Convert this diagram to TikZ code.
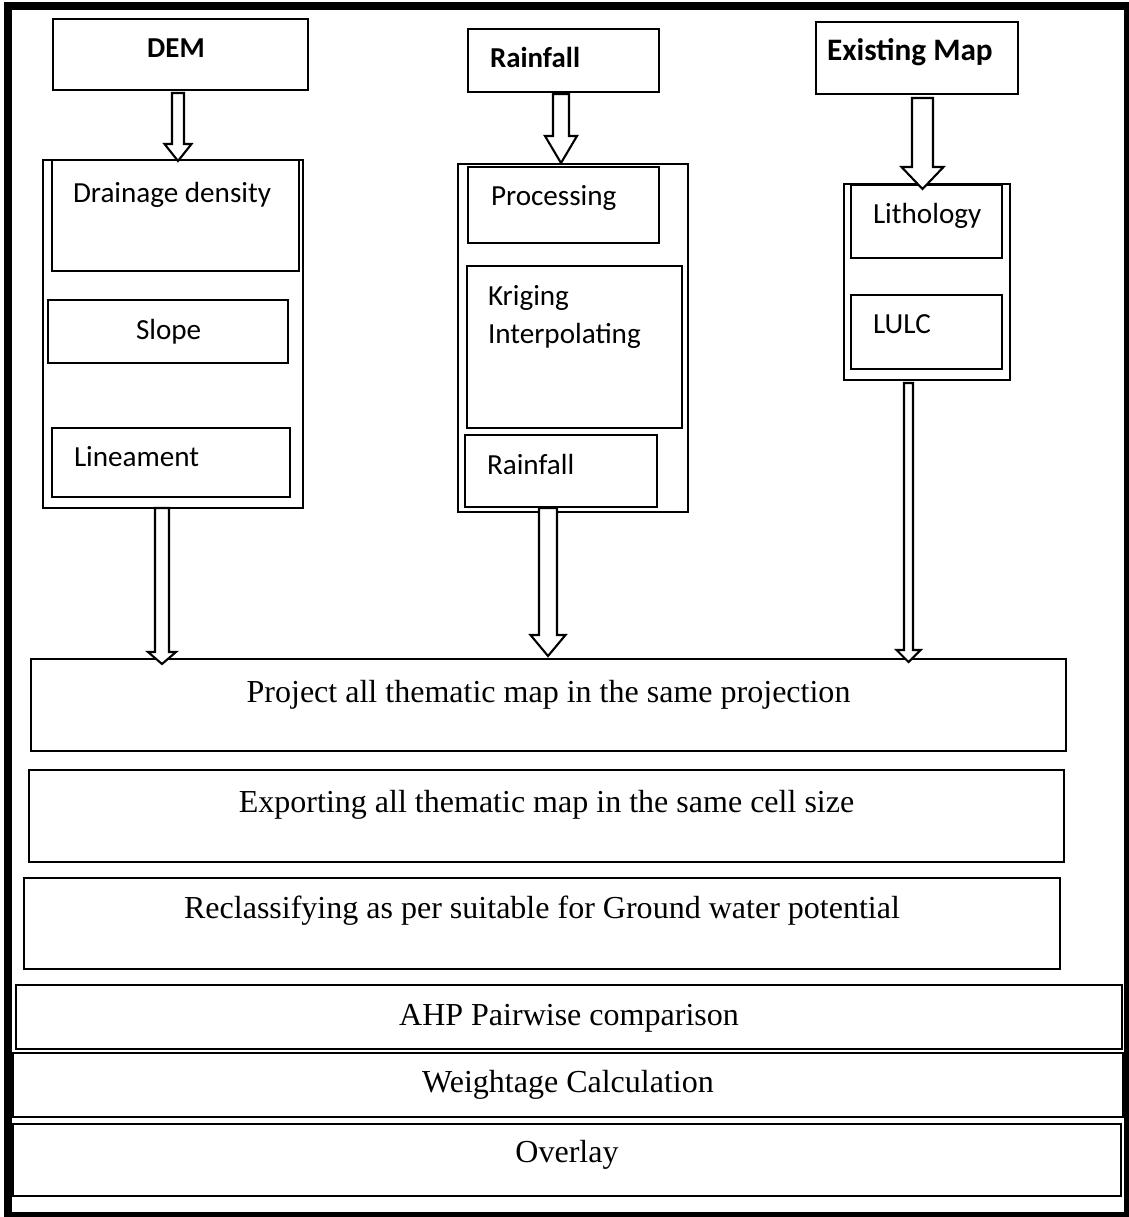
\documentclass[tikz,border=0pt]{standalone}
\usepackage{fontspec}
\setmainfont{Liberation Serif}
\newfontfamily\calfont{Carlito}
\usetikzlibrary{calc}
\def\px{0.381pt}
\tikzset{
  boxst/.style={draw=black, line width=0.8pt, inner sep=0pt, outer sep=0pt, fill=none},
  grpst/.style={draw=black, line width=0.6pt},
  bigst/.style={draw=black, line width=1.1pt},
  lab/.style={inner sep=0pt, outer sep=0pt, font=\calfont\fontsize{11.1}{13}\selectfont},
  blab/.style={lab, font=\calfont\bfseries\fontsize{11}{13}\selectfont},
  tlab/.style={inner sep=0pt, outer sep=0pt, anchor=base, font=\fontsize{12.2}{14}\selectfont},
  harrowst/.style={draw=black, line width=0.8pt, fill=white, line join=miter}
}
\newcommand{\bx}[6][]{\node[boxst,#1,minimum width={(#5-#3)*\px},minimum height={(#6-#4)*\px}] (#2) at ({(#3+#5)/2},{(#4+#6)/2}) {};}
\newcommand{\harrow}[5]{%
  \draw[harrowst] let \p1=(#1), \p2=(#2) in
    (\x1-#3*\px,\y1) -- (\x1+#3*\px,\y1) -- (\x1+#3*\px,\y2+#5*\px) --
    (\x1+#4*\px,\y2+#5*\px) -- (\x1,\y2) -- (\x1-#4*\px,\y2+#5*\px) --
    (\x1-#3*\px,\y2+#5*\px) -- cycle;}
\begin{document}
\begin{tikzpicture}[x=0.381pt,y=-0.381pt]
\useasboundingbox (0,0) rectangle (1128,1217);
\fill[white] (0,0) rectangle (1128,1217);
% outer frame
\draw[line width=8*\px] (8,6) rectangle (1127.5,1215.5);

% source boxes
\bx{dem}{53}{19}{308}{90}
\bx{rainsrc}{468}{29}{659}{92}
\bx{exist}{816}{22}{1018}{94}

% group boxes
\bx[grpst]{lgroup}{43}{160}{303}{508}
\bx[grpst]{mgroup}{458}{164}{688}{512}
\bx[grpst]{rgroup}{844}{184}{1010}{380}

% inner boxes
\bx{dg}{52}{160}{299}{271}
\bx{slope}{48}{300}{288}{363}
\bx{linea}{52}{428}{290}{497}
\bx{proc}{468}{167}{659}{243}
\bx{krig}{467}{266}{682}{428}
\bx{rainout}{465}{435}{657}{507}
\bx{lith}{851}{185}{1002}{258}
\bx{lulc}{851}{295}{1002}{369}

% process boxes
\bx[bigst]{proj}{31}{659}{1066}{751}
\bx[bigst]{expo}{29}{770}{1064}{862}
\bx[bigst]{recl}{24}{878}{1060}{969}
\bx[bigst]{ahp}{16}{985}{1122}{1049}
\bx[bigst]{wt}{13}{1053}{1123}{1117}
\bx[bigst]{ovl}{13}{1124}{1121}{1196}

% labels
\node[blab, anchor=base] (tdem) at (176,58) {DEM};
\node[blab, anchor=base west] (trainsrc) at (490,68) {Rainfall};
\node[blab, anchor=base west, font=\calfont\bfseries\fontsize{11.9}{14}\selectfont] (texist) at (827,61) {Existing Map};
\node[lab, anchor=base west] (tdg) at (73,202) {Drainage density};
\node[lab, anchor=base west] (tslope) at (136,339) {Slope};
\node[lab, anchor=base west] (tlinea) at (74,466) {Lineament};
\node[lab, anchor=base west] (tproc) at (491,205) {Processing};
\node[lab, anchor=base west] (tkrig) at (488,305) {Kriging};
\node[lab, anchor=base west] (tinterp) at (488,343) {Interpolating};
\node[lab, anchor=base west] (trainout) at (487,474) {Rainfall};
\node[lab, anchor=base west] (tlith) at (873,223) {Lithology};
\node[lab, anchor=base west] (tlulc) at (873,333) {LULC};

\node[tlab] (tproj) at (548.5,702) {Project all thematic map in the same projection};
\node[tlab] (texpo) at (546.5,812) {Exporting all thematic map in the same cell size};
\node[tlab] (trecl) at (542,918) {Reclassifying as per suitable for Ground water potential};
\node[tlab] (tahp) at (569,1025) {AHP Pairwise comparison};
\node[tlab] (twt) at (568,1092) {Weightage Calculation};
\node[tlab] (tovl) at (567,1162) {Overlay};

% hollow block arrows
\harrow{$(dem.south)+(-2.5,3)$}{$(dg.north)+(0,1)$}{6}{13.5}{17}
\harrow{$(rainsrc.south)+(-2.5,2)$}{$(mgroup.north)+(0,-1)$}{8}{16}{27}
\harrow{$(exist.south)+(5.5,4)$}{$(rgroup.north)+(0,5)$}{10.5}{21}{22}
\harrow{$(lgroup.south)+(-11,0)$}{$(proj.north)+(0,5)$}{7}{14}{12}
\harrow{$(mgroup.south)+(-25,-4)$}{$(proj.north)+(0,-3)$}{9}{17.5}{21}
\harrow{$(rgroup.south)+(-18.5,3)$}{$(proj.north)+(0,3)$}{4.5}{12}{12}
\end{tikzpicture}
\end{document}
